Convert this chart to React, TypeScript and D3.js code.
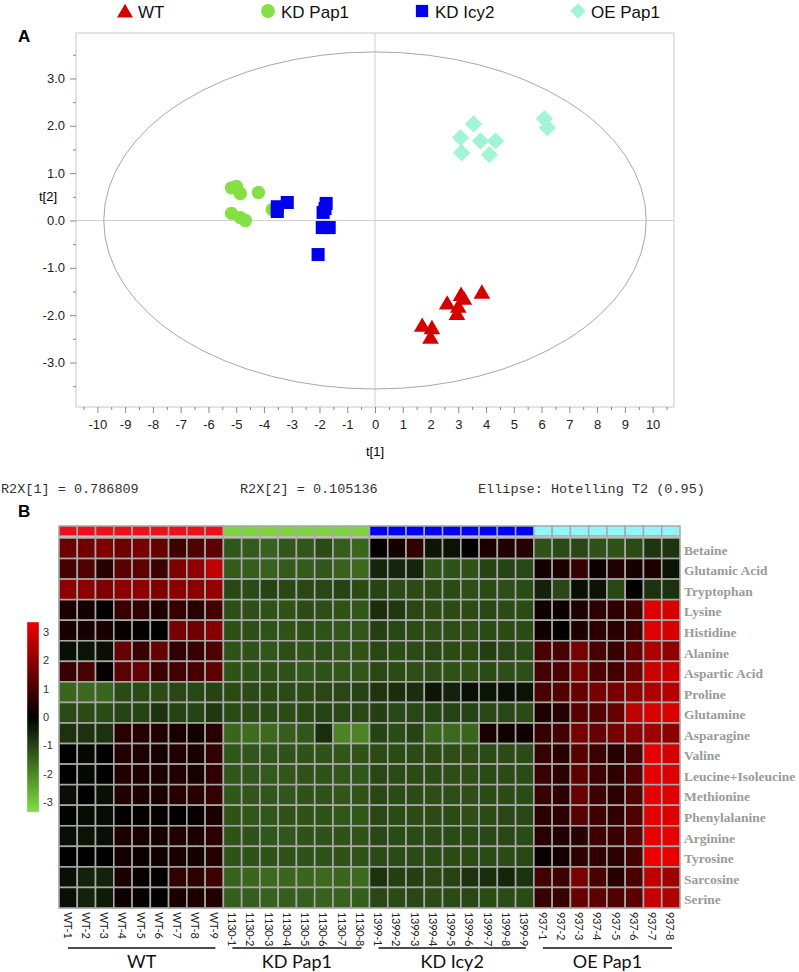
import * as d3 from "d3";
import { useEffect, useRef } from "react";

// groups and their colours
const groupNames = ["WT", "KD Pap1", "KD Icy2", "OE Pap1"];
const markerColors = ["#d40000", "#84e044", "#0000ee", "#a2f5d4"];
const barColors = ["#e8121a", "#7fd43c", "#0000f2", "#90f6f8"];

// PCA scores: t[1] and t[2] for each sample
const wtT1 = [1.7, 2.05, 2.0, 2.6, 2.95, 3.0, 3.1, 3.2, 3.85];
const wtT2 = [-2.25, -2.3, -2.5, -1.78, -2.0, -1.85, -1.6, -1.68, -1.55];
const pap1T1 = [-5.17, -4.99, -4.85, -4.2, -5.17, -4.85, -4.67, -3.7];
const pap1T2 = [0.69, 0.72, 0.57, 0.59, 0.15, 0.06, 0.0, 0.23];
const icy2T1 = [-3.52, -3.16, -3.52, -1.76, -1.8, -1.87, -1.9, -1.65, -2.05];
const icy2T2 = [0.29, 0.38, 0.19, 0.36, 0.25, 0.17, -0.15, -0.15, -0.72];
const oeT1 = [3.55, 3.08, 3.12, 3.8, 4.34, 4.12, 6.1, 6.21];
const oeT2 = [2.04, 1.75, 1.43, 1.68, 1.68, 1.39, 2.15, 1.96];

// axis ticks of the score plot
const xTickValues = [-10, -9, -8, -7, -6, -5, -4, -3, -2, -1, 0, 1, 2, 3, 4, 5, 6, 7, 8, 9, 10];
const yTickValues = [3, 2, 1, 0, -1, -2, -3];
const ellipseRadius = [9.77, 3.56];
const summaryTexts = ["R2X[1] = 0.786809", "R2X[2] = 0.105136", "Ellipse: Hotelling T2 (0.95)"];

// heatmap rows / columns
const metabolites = [
  "Betaine", "Glutamic Acid", "Tryptophan", "Lysine", "Histidine", "Alanine",
  "Aspartic Acid", "Proline", "Glutamine", "Asparagine", "Valine", "Leucine+Isoleucine",
  "Methionine", "Phenylalanine", "Arginine", "Tyrosine", "Sarcosine", "Serine",
];
const wtSamples = ["WT-1", "WT-2", "WT-3", "WT-4", "WT-5", "WT-6", "WT-7", "WT-8", "WT-9"];
const pap1Samples = ["1130-1", "1130-2", "1130-3", "1130-4", "1130-5", "1130-6", "1130-7", "1130-8"];
const icy2Samples = ["1399-1", "1399-2", "1399-3", "1399-4", "1399-5", "1399-6", "1399-7", "1399-8", "1399-9"];
const oeSamples = ["937-1", "937-2", "937-3", "937-4", "937-5", "937-6", "937-7", "937-8"];
const legendTicks = [3, 2, 1, 0, -1, -2, -3];

// z-scores, one row per metabolite
const wtValues = [
  [1.35, 1.45, 1.6, 1.4, 1.5, 1.3, 0.8, 1.0, 1.2],
  [0.9, 1.0, 0.5, 1.15, 1.2, 0.75, 1.6, 1.8, 2.4],
  [1.75, 1.75, 1.6, 1.75, 1.8, 1.6, 1.75, 1.75, 1.85],
  [0.35, 0.25, 0.0, 0.7, 0.6, 0.35, 0.65, 0.5, 0.9],
  [0.3, 0.3, 0.3, 0.1, 0.05, 0.0, 1.5, 1.4, 1.7],
  [-0.2, -0.25, -0.2, 1.3, 0.7, 1.3, 0.6, 0.7, 1.0],
  [0.7, 0.9, 0.05, 1.15, 1.25, 0.7, 0.85, 0.9, 1.2],
  [-1.35, -1.4, -1.35, -1.0, -1.0, -1.0, -0.95, -0.95, -0.9],
  [-1.0, -1.0, -1.0, -0.9, -0.9, -0.65, -0.9, -0.9, -0.75],
  [-0.65, -0.65, -0.65, 0.5, 0.45, 0.4, 0.3, 0.25, 0.5],
  [0.0, -0.1, 0.0, 0.4, 0.35, 0.25, 0.4, 0.3, 0.6],
  [0.0, -0.1, 0.0, 0.4, 0.35, 0.35, 0.4, 0.3, 0.6],
  [-0.2, 0.0, -0.2, 0.4, 0.35, 0.3, 0.45, 0.5, 0.65],
  [-0.05, -0.15, -0.15, 0.05, 0.05, 0.1, 0.05, 0.1, 0.35],
  [-0.2, -0.25, -0.2, 0.35, 0.3, 0.3, 0.4, 0.35, 0.55],
  [0.0, 0.0, 0.0, 0.25, 0.15, 0.2, 0.3, 0.25, 0.45],
  [-0.2, -0.45, -0.45, 0.35, 0.1, 0.05, 0.6, 0.55, 0.8],
  [-0.2, -0.45, -0.35, 0.15, 0.1, 0.0, 0.3, 0.35, 0.4],
];
const pap1Values = [
  [-1.15, -1.2, -1.3, -1.15, -1.15, -1.0, -1.25, -1.35],
  [-1.2, -1.25, -1.3, -1.2, -1.2, -1.15, -1.3, -1.4],
  [-0.95, -1.0, -0.9, -0.95, -0.95, -0.95, -0.9, -1.0],
  [-1.05, -1.05, -1.1, -1.1, -1.0, -1.05, -1.1, -1.15],
  [-1.05, -1.05, -1.1, -1.1, -1.05, -1.1, -1.15, -1.15],
  [-1.1, -1.1, -1.15, -1.05, -1.1, -1.05, -1.15, -1.1],
  [-1.1, -1.1, -1.1, -1.1, -1.15, -1.1, -1.15, -1.15],
  [-1.0, -1.0, -1.0, -1.0, -1.0, -0.95, -0.95, -0.9],
  [-1.0, -1.0, -1.0, -1.0, -0.95, -0.9, -0.95, -0.95],
  [-1.35, -1.45, -1.4, -1.25, -1.15, -0.6, -1.75, -1.75],
  [-1.15, -1.15, -1.15, -1.1, -1.1, -1.1, -1.15, -1.1],
  [-1.15, -1.15, -1.2, -1.15, -1.1, -1.1, -1.15, -1.15],
  [-1.15, -1.15, -1.15, -1.15, -1.1, -1.1, -1.15, -1.1],
  [-1.1, -1.15, -1.15, -1.1, -1.1, -1.1, -1.15, -1.15],
  [-1.1, -1.1, -1.15, -1.15, -1.1, -1.1, -1.1, -1.1],
  [-1.1, -1.1, -1.1, -1.1, -1.1, -1.1, -1.1, -1.1],
  [-1.3, -1.35, -1.4, -1.35, -1.35, -1.4, -1.35, -1.4],
  [-1.25, -1.25, -1.3, -1.25, -1.25, -1.3, -1.3, -1.25],
];
const icy2Values = [
  [0.05, 0.3, 0.6, -0.3, -0.25, 0.0, 0.35, 0.4, 0.45],
  [-0.5, -0.5, -0.5, -1.1, -1.1, -1.1, -0.9, -0.9, -0.95],
  [-0.9, -1.0, -1.0, -1.0, -1.0, -1.05, -1.0, -1.05, -1.0],
  [-0.6, -0.75, -0.95, -1.0, -1.0, -1.0, -0.95, -1.0, -1.0],
  [-0.85, -0.95, -1.0, -1.05, -1.05, -1.05, -1.0, -1.0, -1.0],
  [-0.95, -1.0, -1.0, -0.95, -1.0, -1.0, -0.85, -0.95, -1.0],
  [-0.95, -1.0, -1.05, -1.05, -1.1, -1.1, -1.0, -1.05, -1.05],
  [-0.7, -0.6, -0.6, -0.3, -0.45, -0.2, -0.3, -0.2, -0.25],
  [-0.85, -0.95, -0.95, -0.9, -0.9, -0.9, -0.95, -0.95, -1.0],
  [-0.9, -1.0, -0.9, -1.35, -1.4, -1.35, 0.3, 0.2, 0.2],
  [-1.0, -1.0, -1.0, -1.0, -1.05, -1.05, -1.0, -1.0, -1.0],
  [-0.95, -1.0, -1.0, -1.0, -1.05, -1.05, -1.0, -1.0, -1.0],
  [-0.95, -1.0, -1.0, -1.05, -1.05, -1.05, -1.0, -1.0, -1.0],
  [-0.95, -1.0, -1.0, -1.0, -1.0, -1.05, -1.0, -0.95, -0.95],
  [-0.95, -1.0, -1.0, -1.0, -1.0, -1.0, -0.95, -0.95, -1.0],
  [-1.0, -1.0, -1.0, -1.0, -1.0, -1.0, -1.0, -1.0, -0.95],
  [-0.65, -0.85, -0.85, -0.95, -0.9, -0.65, -0.6, -0.5, -0.65],
  [-0.95, -1.0, -0.95, -1.0, -1.0, -0.95, -1.0, -1.0, -1.0],
];
const oeValues = [
  [-1.1, -1.0, -0.95, -1.1, -1.1, -1.0, -0.7, -0.7],
  [0.25, 0.35, 0.65, 0.15, 0.4, 0.3, 0.35, -0.25],
  [-0.45, -0.95, -0.2, -0.25, -0.95, 0.0, -0.65, -0.65],
  [0.2, 0.15, 0.35, 0.55, 0.55, 0.75, 2.8, 2.7],
  [0.2, 0.05, 0.35, 0.55, 0.5, 0.75, 2.8, 2.7],
  [0.95, 0.9, 1.5, 0.9, 0.7, 1.25, 2.2, 1.8],
  [0.85, 0.95, 1.5, 0.95, 0.85, 1.35, 2.55, 2.55],
  [0.95, 1.05, 1.3, 1.5, 1.5, 1.75, 2.2, 2.3],
  [0.35, 0.45, 1.1, 1.05, 1.3, 2.4, 2.75, 2.75],
  [0.65, 0.85, 1.5, 1.3, 1.5, 1.7, 2.0, 1.75],
  [0.65, 0.5, 1.1, 0.7, 0.5, 0.9, 2.9, 2.7],
  [0.7, 0.55, 1.2, 0.75, 0.6, 1.0, 2.9, 2.8],
  [0.7, 0.55, 1.3, 0.75, 0.55, 1.0, 2.9, 2.8],
  [0.55, 0.55, 1.1, 0.8, 0.6, 1.0, 2.9, 2.8],
  [0.5, 0.4, 0.5, 0.8, 0.7, 1.1, 2.9, 2.9],
  [0.15, 0.25, 0.55, 0.6, 0.55, 0.85, 3.0, 2.9],
  [0.85, 0.75, 1.5, 0.95, 0.5, 0.95, 2.4, 2.0],
  [0.7, 0.7, 1.3, 1.2, 1.0, 1.15, 2.5, 2.2],
];

const sansFont = "'Liberation Sans', Arial, sans-serif";
const labelFont = "Lato, 'Open Sans', sans-serif";

function App() {
  const ref = useRef<SVGSVGElement>(null);

  useEffect(() => {
    const svg = d3.select(ref.current);
    svg.selectAll("*").remove();
    drawScores(svg);
    drawHeatmap(svg);
  }, []);

  const drawScores = (svg: any) => {
    const x = d3.scaleLinear().domain([-10.77, 10.77]).range([76, 674]);
    const y = d3.scaleLinear().domain([-3.94, 3.96]).range([407, 33]);

    // legend across the top
    const legendX = [125, 268, 422, 578];
    const symbols = [d3.symbolTriangle, d3.symbolCircle, d3.symbolSquare, d3.symbolSquare];
    const sizes = [110, 150, 150, 120];
    groupNames.forEach((name, i) => {
      svg
        .append("path")
        .attr("d", d3.symbol().type(symbols[i]).size(sizes[i])())
        .attr("transform", `translate(${legendX[i]},${i === 0 ? 13 : 11})${i === 3 ? " rotate(45)" : ""}`)
        .attr("fill", markerColors[i]);
      svg
        .append("text")
        .attr("x", legendX[i] + 13)
        .attr("y", 12)
        .attr("dominant-baseline", "central")
        .style("font", `17px ${sansFont}`)
        .attr("fill", "#111")
        .text(name);
    });

    // panel letter
    svg
      .append("text")
      .attr("x", 18)
      .attr("y", 36)
      .attr("dominant-baseline", "central")
      .style("font", `bold 17px ${sansFont}`)
      .text("A");

    // plot frame and the zero lines
    svg
      .append("rect")
      .attr("x", x.range()[0])
      .attr("y", y.range()[1])
      .attr("width", x.range()[1] - x.range()[0])
      .attr("height", y.range()[0] - y.range()[1])
      .attr("fill", "none")
      .attr("stroke", "#c8c8c8");
    svg
      .append("line")
      .attr("x1", x(0))
      .attr("x2", x(0))
      .attr("y1", y.range()[1])
      .attr("y2", y.range()[0])
      .attr("stroke", "#d0d0d0");
    svg
      .append("line")
      .attr("x1", x.range()[0])
      .attr("x2", x.range()[1])
      .attr("y1", y(0))
      .attr("y2", y(0))
      .attr("stroke", "#d0d0d0");

    // Hotelling T2 ellipse
    svg
      .append("ellipse")
      .attr("cx", x(0))
      .attr("cy", y(0))
      .attr("rx", x(ellipseRadius[0]) - x(0))
      .attr("ry", y(0) - y(ellipseRadius[1]))
      .attr("fill", "none")
      .attr("stroke", "#a8a8a8");

    // x axis, major + minor ticks
    const minorX = d3.range(-10.5, 10.6, 0.5).filter((d) => d % 1 !== 0);
    svg
      .append("g")
      .attr("transform", `translate(0,${y.range()[0]})`)
      .call(d3.axisBottom(x).tickValues(minorX).tickSize(3).tickFormat(() => ""))
      .call((g: any) => g.select(".domain").remove())
      .call((g: any) => g.selectAll("line").attr("stroke", "#888"));
    svg
      .append("g")
      .attr("transform", `translate(0,${y.range()[0]})`)
      .call(d3.axisBottom(x).tickValues(xTickValues).tickSize(6).tickPadding(7).tickFormat((d: any) => String(d)))
      .call((g: any) => g.select(".domain").remove())
      .call((g: any) => g.selectAll("line").attr("stroke", "#888"))
      .call((g: any) => g.selectAll("text").style("font", `13px ${sansFont}`).attr("fill", "#222"));

    // y axis
    const minorY = d3.range(-3.5, 3.6, 0.5).filter((d) => d % 1 !== 0);
    svg
      .append("g")
      .attr("transform", `translate(${x.range()[0]},0)`)
      .call(d3.axisLeft(y).tickValues(minorY).tickSize(3).tickFormat(() => ""))
      .call((g: any) => g.select(".domain").remove())
      .call((g: any) => g.selectAll("line").attr("stroke", "#888"));
    svg
      .append("g")
      .attr("transform", `translate(${x.range()[0]},0)`)
      .call(d3.axisLeft(y).tickValues(yTickValues).tickSize(6).tickPadding(5).tickFormat((d: any) => d.toFixed(1)))
      .call((g: any) => g.select(".domain").remove())
      .call((g: any) => g.selectAll("line").attr("stroke", "#888"))
      .call((g: any) => g.selectAll("text").style("font", `13px ${sansFont}`).attr("fill", "#222"));

    // axis titles
    svg
      .append("text")
      .attr("x", x(0))
      .attr("y", 451)
      .attr("text-anchor", "middle")
      .attr("dominant-baseline", "central")
      .style("font", `13px ${sansFont}`)
      .text("t[1]");
    svg
      .append("text")
      .attr("x", 48)
      .attr("y", y(0.5))
      .attr("text-anchor", "middle")
      .attr("dominant-baseline", "central")
      .style("font", `13px ${sansFont}`)
      .text("t[2]");

    // the samples
    const sets = [
      [wtT1, wtT2],
      [pap1T1, pap1T2],
      [icy2T1, icy2T2],
      [oeT1, oeT2],
    ];
    const plotSizes = [120, 140, 170, 150];
    sets.forEach(([t1, t2], i) => {
      svg
        .append("g")
        .selectAll("path")
        .data(t1.map((v, j) => [v, t2[j]]))
        .join("path")
        .attr("d", d3.symbol().type(symbols[i]).size(plotSizes[i])())
        .attr("transform", (d: number[]) => `translate(${x(d[0])},${y(d[1])})${i === 3 ? " rotate(45)" : ""}`)
        .attr("fill", markerColors[i]);
    });

    // model summary line
    const summaryX = [1, 240, 478];
    summaryTexts.forEach((t, i) => {
      svg
        .append("text")
        .attr("x", summaryX[i])
        .attr("y", 489)
        .attr("dominant-baseline", "central")
        .style("font", "13.5px 'Liberation Mono', 'DejaVu Sans Mono', monospace")
        .style("white-space", "pre")
        .attr("fill", "#333")
        .text(t);
    });
  };

  const drawHeatmap = (svg: any) => {
    const sampleSets = [wtSamples, pap1Samples, icy2Samples, oeSamples];
    const valueSets = [wtValues, pap1Values, icy2Values, oeValues];
    const columns = sampleSets.flat();

    const xb = d3.scaleBand().domain(columns).range([59, 680]);
    const yb = d3.scaleBand().domain(metabolites).range([538, 908]);
    const color = d3
      .scaleLinear<string>()
      .domain([-3, 0, 3])
      .range(["#80e040", "#000000", "#ee0000"])
      .clamp(true);

    svg
      .append("text")
      .attr("x", 18)
      .attr("y", 511)
      .attr("dominant-baseline", "central")
      .style("font", `bold 17px ${sansFont}`)
      .text("B");

    sampleSets.forEach((samples, g) => {
      // group colour strip
      svg
        .append("g")
        .selectAll("rect")
        .data(samples)
        .join("rect")
        .attr("x", (d: string) => xb(d))
        .attr("y", 526)
        .attr("width", xb.bandwidth())
        .attr("height", 10)
        .attr("fill", barColors[g])
        .attr("stroke", "#a8a8a8")
        .attr("stroke-width", 1.5);

      // cells
      metabolites.forEach((m, r) => {
        svg
          .append("g")
          .selectAll("rect")
          .data(valueSets[g][r].map((v, j) => ({ v, s: samples[j] })))
          .join("rect")
          .attr("x", (d: any) => xb(d.s))
          .attr("y", yb(m))
          .attr("width", xb.bandwidth())
          .attr("height", yb.bandwidth())
          .attr("fill", (d: any) => color(d.v))
          .attr("stroke", "#a8a8a8")
          .attr("stroke-width", 1.6);
      });

      // sample labels, rotated
      svg
        .append("g")
        .selectAll("text")
        .data(samples)
        .join("text")
        .attr("transform", (d: string) => `translate(${(xb(d) as number) + xb.bandwidth() / 2},${yb.range()[1] + 4}) rotate(90)`)
        .attr("dominant-baseline", "central")
        .style("font", `11px ${labelFont}`)
        .style("letter-spacing", "-0.3px")
        .attr("fill", "#222")
        .text((d: string) => d);

      // group underline + name
      const x0 = (xb(samples[0]) as number) + 9;
      const x1 = (xb(samples[samples.length - 1]) as number) + xb.bandwidth() - 8;
      svg
        .append("line")
        .attr("x1", x0)
        .attr("x2", x1)
        .attr("y1", 948)
        .attr("y2", 948)
        .attr("stroke", "#111")
        .attr("stroke-width", 1.5);
      svg
        .append("text")
        .attr("x", (x0 + x1) / 2)
        .attr("y", 961)
        .attr("text-anchor", "middle")
        .attr("dominant-baseline", "central")
        .style("font", `18px ${labelFont}`)
        .attr("fill", "#111")
        .text(groupNames[g]);
    });

    // metabolite names
    svg
      .append("g")
      .selectAll("text")
      .data(metabolites)
      .join("text")
      .attr("x", 684)
      .attr("y", (d: string) => (yb(d) as number) + yb.bandwidth() / 2 + 2)
      .attr("dominant-baseline", "central")
      .style("font", "bold 13.5px 'Liberation Serif', 'Times New Roman', serif")
      .attr("fill", "#9a9a9a")
      .text((d: string) => d);

    // colour key
    const defs = svg.append("defs");
    const grad = defs
      .append("linearGradient")
      .attr("id", "heat-key")
      .attr("x1", 0)
      .attr("y1", 0)
      .attr("x2", 0)
      .attr("y2", 1);
    [3, 0, -3].forEach((v, i) => {
      grad
        .append("stop")
        .attr("offset", `${i * 50}%`)
        .attr("stop-color", color(v));
    });
    const ky = d3.scaleLinear().domain([3.35, -3.35]).range([622, 812]);
    svg
      .append("rect")
      .attr("x", 27)
      .attr("y", ky(3.35))
      .attr("width", 12)
      .attr("height", ky(-3.35) - ky(3.35))
      .attr("fill", "url(#heat-key)")
      .attr("stroke", "#ddd")
      .attr("stroke-width", 0.5);
    svg
      .append("g")
      .selectAll("text")
      .data(legendTicks)
      .join("text")
      .attr("x", 43)
      .attr("y", (d: number) => ky(d))
      .attr("dominant-baseline", "central")
      .style("font", `11px ${sansFont}`)
      .attr("fill", "#333")
      .text((d: number) => String(d));
  };

  return (
    <svg
      ref={ref}
      width={799}
      height={972}
      style={{ position: "absolute", left: 0, top: 0, background: "#fff" }}
    />
  );
}

export default App;
